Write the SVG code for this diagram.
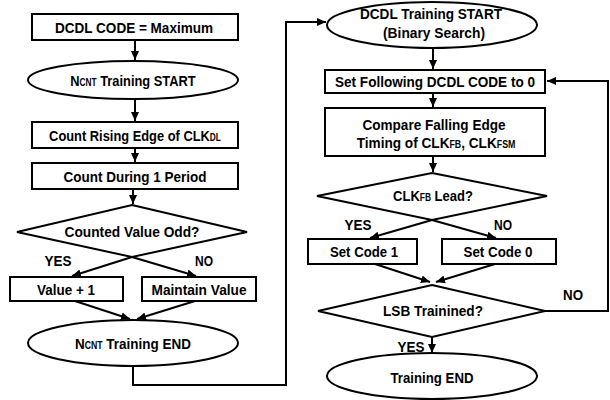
<svg xmlns="http://www.w3.org/2000/svg" width="610" height="400" viewBox="0 0 610 400">
<style>
.n{fill:#fff;stroke:#000;stroke-width:2}
.c{fill:none;stroke:#000;stroke-width:2}
text{font-family:"Liberation Sans",Arial,sans-serif;font-weight:bold;font-size:15.5px;text-anchor:middle;fill:#000}
.s{font-size:10px}
</style>
<defs>
<marker id="a" markerUnits="userSpaceOnUse" markerWidth="10" markerHeight="10" refX="9" refY="5" orient="auto">
<path d="M0,1 L9,5 L0,9 Z" fill="#000"/>
</marker>
</defs>
<rect width="610" height="400" fill="#fff"/>
<g id="connectors">
<line class="c" x1="135" y1="40" x2="135" y2="60" marker-end="url(#a)"/>
<line class="c" x1="135" y1="98" x2="135" y2="121" marker-end="url(#a)"/>
<line class="c" x1="135" y1="148" x2="135" y2="162" marker-end="url(#a)"/>
<line class="c" x1="133" y1="189" x2="133" y2="204" marker-end="url(#a)"/>
<line class="c" x1="132" y1="257" x2="72" y2="276" marker-end="url(#a)"/>
<line class="c" x1="132" y1="257" x2="196" y2="276" marker-end="url(#a)"/>
<line class="c" x1="75" y1="301" x2="130" y2="319" marker-end="url(#a)"/>
<line class="c" x1="195" y1="301" x2="137" y2="319" marker-end="url(#a)"/>
<polyline class="c" points="133,367 133,385 286,385 286,22 326,22" marker-end="url(#a)"/>
<line class="c" x1="433" y1="48" x2="433" y2="69" marker-end="url(#a)"/>
<line class="c" x1="433" y1="93" x2="433" y2="107" marker-end="url(#a)"/>
<line class="c" x1="433" y1="156" x2="433" y2="172" marker-end="url(#a)"/>
<line class="c" x1="432" y1="220" x2="370" y2="238" marker-end="url(#a)"/>
<line class="c" x1="432" y1="220" x2="496" y2="238" marker-end="url(#a)"/>
<line class="c" x1="375" y1="264" x2="430" y2="282" marker-end="url(#a)"/>
<line class="c" x1="495" y1="264" x2="436" y2="282" marker-end="url(#a)"/>
<polyline class="c" points="545,311 608,311 608,81 547,81" marker-end="url(#a)"/>
<line class="c" x1="432" y1="337" x2="432" y2="353" marker-end="url(#a)"/>
</g>
<g id="n1"><rect class="n" x="32" y="14" width="206" height="26"/><text x="134" y="33" textLength="158" lengthAdjust="spacingAndGlyphs">DCDL CODE = Maximum</text></g>
<g id="n2"><ellipse class="n" cx="133" cy="80" rx="105" ry="19"/><text transform="translate(133,86) scale(0.83,1)">N<tspan class="s">CNT</tspan> Training START</text></g>
<g id="n3"><rect class="n" x="32" y="122" width="206" height="26"/><text transform="translate(135,141) scale(0.83,1)">Count Rising Edge of CLK<tspan class="s">DL</tspan></text></g>
<g id="n4"><rect class="n" x="32" y="163" width="206" height="26"/><text x="135" y="182" textLength="143" lengthAdjust="spacingAndGlyphs">Count During 1 Period</text></g>
<g id="n5"><polygon class="n" points="132,205 247,232 132,257 17,232"/><text x="132" y="237" textLength="135" lengthAdjust="spacingAndGlyphs">Counted Value Odd?</text></g>
<text x="58" y="266" textLength="27" lengthAdjust="spacingAndGlyphs">YES</text>
<text x="204" y="266" textLength="18" lengthAdjust="spacingAndGlyphs">NO</text>
<g id="n6"><rect class="n" x="10" y="277" width="113" height="24"/><text x="66" y="295" textLength="58" lengthAdjust="spacingAndGlyphs">Value + 1</text></g>
<g id="n7"><rect class="n" x="142" y="277" width="114" height="24"/><text x="199" y="295" textLength="95" lengthAdjust="spacingAndGlyphs">Maintain Value</text></g>
<g id="n8"><ellipse class="n" cx="133" cy="343" rx="105" ry="23"/><text transform="translate(133,349) scale(0.87,1)">N<tspan class="s">CNT</tspan> Training END</text></g>
<g id="n9"><ellipse class="n" cx="432" cy="25" rx="105" ry="23"/><text x="431" y="19" textLength="142" lengthAdjust="spacingAndGlyphs">DCDL Training START</text><text x="434" y="38" textLength="102" lengthAdjust="spacingAndGlyphs">(Binary Search)</text></g>
<g id="n10"><rect class="n" x="325" y="70" width="220" height="23"/><text x="435" y="87" textLength="200" lengthAdjust="spacingAndGlyphs">Set Following DCDL CODE to 0</text></g>
<g id="n11"><rect class="n" x="325" y="108" width="220" height="48"/><text x="434" y="130" textLength="143" lengthAdjust="spacingAndGlyphs">Compare Falling Edge</text><text transform="translate(436,148) scale(0.88,1)">Timing of CLK<tspan class="s">FB</tspan>, CLK<tspan class="s">FSM</tspan></text></g>
<g id="n12"><polygon class="n" points="432,173 547,196 432,220 317,196"/><text transform="translate(433,201) scale(0.84,1)">CLK<tspan class="s">FB</tspan> Lead?</text></g>
<text x="358" y="230" textLength="27" lengthAdjust="spacingAndGlyphs">YES</text>
<text x="503" y="230" textLength="18" lengthAdjust="spacingAndGlyphs">NO</text>
<g id="n13"><rect class="n" x="308" y="239" width="109" height="25"/><text x="364" y="257" textLength="68" lengthAdjust="spacingAndGlyphs">Set Code 1</text></g>
<g id="n14"><rect class="n" x="442" y="239" width="114" height="25"/><text x="498" y="257" textLength="69" lengthAdjust="spacingAndGlyphs">Set Code 0</text></g>
<g id="n15"><polygon class="n" points="432,285 545,311 432,337 318,311"/><text x="433" y="316" textLength="100" lengthAdjust="spacingAndGlyphs">LSB Trainined?</text></g>
<text x="573" y="300" textLength="20" lengthAdjust="spacingAndGlyphs">NO</text>
<text x="411" y="352" textLength="27" lengthAdjust="spacingAndGlyphs">YES</text>
<g id="n16"><ellipse class="n" cx="432" cy="376" rx="105" ry="23"/><text x="432" y="383" textLength="83" lengthAdjust="spacingAndGlyphs">Training END</text></g>
</svg>
